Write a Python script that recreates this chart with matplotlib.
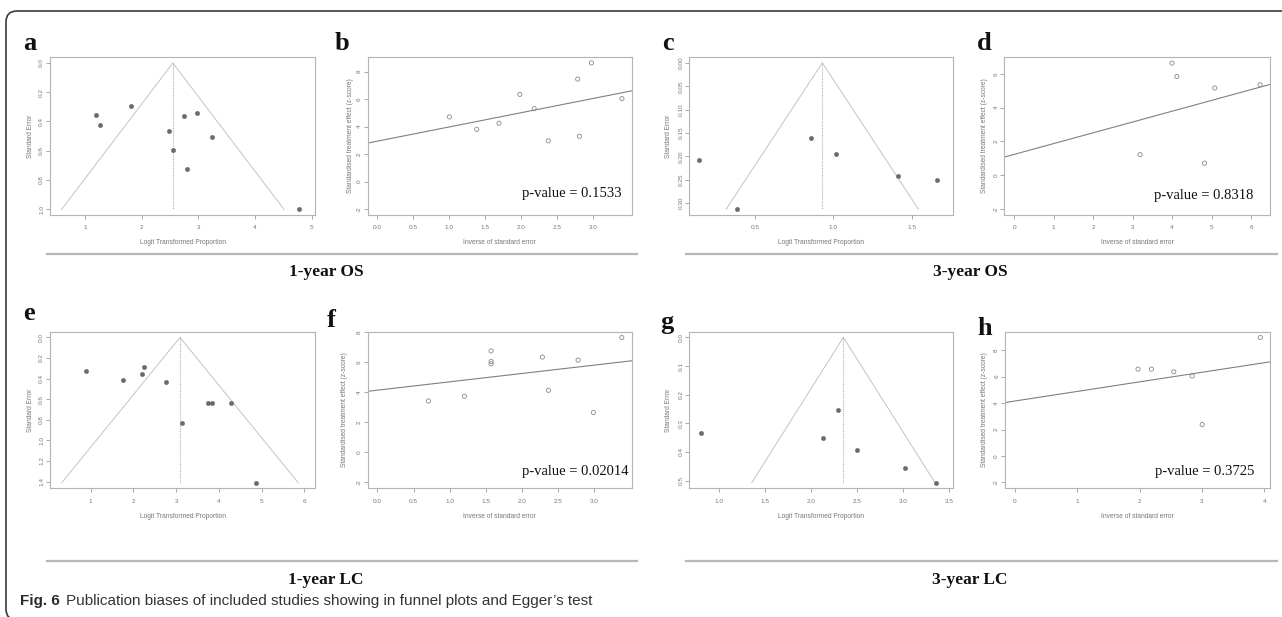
import numpy as np
import matplotlib
matplotlib.use("Agg")
import matplotlib.pyplot as plt
from matplotlib.patches import FancyBboxPatch
from matplotlib.transforms import IdentityTransform
from matplotlib.ticker import FixedLocator, FixedFormatter

W, H = 1282, 617
plt.rcParams['axes.unicode_minus'] = False

# ---------------- data ----------------
# (a) 1-year OS funnel plot: logit transformed proportion vs standard error
a_te = [1.19, 1.27, 1.82, 2.48, 2.56, 2.74, 2.80, 2.98, 3.25, 4.77]
a_se = [0.358, 0.425, 0.297, 0.463, 0.596, 0.363, 0.726, 0.340, 0.505, 1.002]
a_center = 2.55
# (b) 1-year OS Egger: inverse of SE vs z-score
b_prec = [1.00, 1.38, 1.69, 1.98, 2.18, 2.375, 2.785, 2.81, 2.976, 3.40]
b_z = [4.71, 3.81, 4.25, 6.35, 5.31, 2.97, 7.46, 3.30, 8.64, 6.04]
b_pval = "p-value = 0.1533"
# (c) 3-year OS funnel
c_te = [0.145, 0.383, 0.858, 1.017, 1.41, 1.66]
c_se = [0.207, 0.313, 0.160, 0.196, 0.243, 0.250]
c_center = 0.93
# (d) 3-year OS Egger
d_prec = [3.19, 4.00, 4.12, 4.82, 5.08, 6.23]
d_z = [1.22, 6.63, 5.84, 0.71, 5.16, 5.35]
d_pval = "p-value = 0.8318"
# (e) 1-year LC funnel
e_te = [0.89, 1.75, 2.20, 2.256, 2.77, 3.13, 3.75, 3.85, 4.29, 4.87]
e_se = [0.330, 0.417, 0.356, 0.291, 0.434, 0.828, 0.634, 0.634, 0.634, 1.411]
e_center = 3.09
# (f) 1-year LC Egger
f_prec = [0.706, 1.204, 1.574, 1.574, 1.574, 2.284, 2.367, 2.778, 2.99, 3.383]
f_z = [3.42, 3.73, 6.75, 6.05, 5.89, 6.34, 4.13, 6.14, 2.65, 7.64]
f_pval = "p-value = 0.02014"
# (g) 3-year LC funnel
g_te = [0.80, 2.129, 2.288, 2.501, 3.019, 3.352]
g_se = [0.333, 0.351, 0.253, 0.392, 0.457, 0.507]
g_center = 2.35
# (h) 3-year LC Egger
h_prec = [1.975, 2.19, 2.548, 2.843, 3.003, 3.935]
h_z = [6.57, 6.57, 6.37, 6.05, 2.38, 8.96]
h_pval = "p-value = 0.3725"

group_titles = ["1-year OS", "3-year OS", "1-year LC", "3-year LC"]
caption_bold = "Fig. 6"
caption_text = "Publication biases of included studies showing in funnel plots and Egger\u2019s test"

funnel_xlabel = "Logit Transformed Proportion"
funnel_ylabel = "Standard Error"
egger_xlabel = "Inverse of standard error"
egger_ylabel = "Standardised treatment effect (z-score)"

# ---------------- styling ----------------
SPINE = "#b4b4b4"
TICKC = "#9a9a9a"
LABC = "#777777"
DOT = "#6a6a6a"
SANS = ["Liberation Sans Narrow", "Liberation Sans", "DejaVu Sans"]
SERIF = ["Liberation Serif", "DejaVu Serif"]

fig = plt.figure(figsize=(W / 100, H / 100), dpi=100)


def fx(x):
    return x / W


def fy(y):
    return 1 - y / H


def make_ax(L, T, R, B):
    ax = fig.add_axes([fx(L), fy(B), (R - L) / W, (B - T) / H])
    for s in ax.spines.values():
        s.set_color(SPINE)
        s.set_linewidth(0.8)
    ax.tick_params(axis='both', direction='out', length=3, width=0.6,
                   color=TICKC, labelcolor=LABC, labelsize=4.6)
    ax.tick_params(axis='x', pad=4.5)
    ax.tick_params(axis='y', pad=1.2)
    return ax


def set_ticks(ax, xt, xl, yt, yl):
    ax.xaxis.set_major_locator(FixedLocator(xt))
    ax.xaxis.set_major_formatter(FixedFormatter(xl))
    ax.yaxis.set_major_locator(FixedLocator(yt))
    ax.yaxis.set_major_formatter(FixedFormatter(yl))
    for lab in ax.get_xticklabels():
        lab.set_fontfamily(SANS)
    for lab in ax.get_yticklabels():
        lab.set_rotation(90)
        lab.set_va('center')
        lab.set_fontfamily(SANS)


def labels(ax, xlabel, ylabel, ylab_x, L, T, R, B):
    fig.text(fx((L + R) / 2), fy(B + 28), xlabel, ha='center', va='center',
             fontsize=4.8, color=LABC, family=SANS)
    fig.text(fx(ylab_x), fy((T + B) / 2), ylabel, ha='center', va='center',
             rotation=90, fontsize=4.8, color=LABC, family=SANS)


def funnel(box, te, se, center, xlim, ylim, xt, xl, yt, yl, ylab_x):
    L, T, R, B = box
    ax = make_ax(*box)
    semax = max(se)
    ax.plot([center - 1.96 * semax, center, center + 1.96 * semax],
            [semax, 0, semax], color="#c4c4c4", lw=0.7)
    ax.plot([center, center], [0, semax], color="#b0b0b0", lw=0.8,
            linestyle=(0, (1, 1)))
    ax.scatter(te, se, s=10, color=DOT, edgecolors=DOT, linewidths=0.3, zorder=3)
    ax.set_xlim(*xlim)
    ax.set_ylim(*ylim)
    set_ticks(ax, xt, xl, yt, yl)
    labels(ax, funnel_xlabel, funnel_ylabel, ylab_x, L, T, R, B)
    return ax


def egger(box, prec, z, pval, xlim, ylim, xt, xl, yt, yl, ylab_x, ptxt):
    L, T, R, B = box
    ax = make_ax(*box)
    slope, icpt = np.polyfit(prec, z, 1)
    ax.axline((0, icpt), slope=slope, color="#808080", lw=0.8)
    ax.scatter(prec, z, s=9, facecolors='none', edgecolors="#8a8a8a",
               linewidths=0.6, zorder=3)
    ax.set_xlim(*xlim)
    ax.set_ylim(*ylim)
    set_ticks(ax, xt, xl, yt, yl)
    labels(ax, egger_xlabel, egger_ylabel, ylab_x, L, T, R, B)
    fig.text(fx(ptxt[0]), fy(ptxt[1]), pval, ha='right', va='center',
             fontsize=10.5, family=SERIF, color="#111111")
    return ax


# panel a
funnel((50, 57, 315, 215), a_te, a_se, a_center, (0.382, 5.06), (1.04, -0.041),
       [1, 2, 3, 4, 5], ["1", "2", "3", "4", "5"],
       [0, 0.2, 0.4, 0.6, 0.8, 1.0], ["0.0", "0.2", "0.4", "0.6", "0.8", "1.0"], 30)
# panel b
egger((367.7, 57, 631.7, 215), b_prec, b_z, b_pval, (-0.136, 3.536), (-2.43, 9.07),
      [0, 0.5, 1, 1.5, 2, 2.5, 3], ["0.0", "0.5", "1.0", "1.5", "2.0", "2.5", "3.0"],
      [-2, 0, 2, 4, 6, 8], ["-2", "0", "2", "4", "6", "8"], 350, (621.7, 194))
# panel c
funnel((689.3, 57, 953.3, 215), c_te, c_se, c_center, (0.081, 1.766), (0.3255, -0.0125),
       [0.5, 1.0, 1.5], ["0.5", "1.0", "1.5"],
       [0, 0.05, 0.1, 0.15, 0.2, 0.25, 0.3],
       ["0.00", "0.05", "0.10", "0.15", "0.20", "0.25", "0.30"], 668)
# panel d
egger((1004.3, 57, 1270, 215), d_prec, d_z, d_pval, (-0.25, 6.48), (-2.35, 6.99),
      [0, 1, 2, 3, 4, 5, 6], ["0", "1", "2", "3", "4", "5", "6"],
      [-2, 0, 2, 4, 6], ["-2", "0", "2", "4", "6"], 985, (1253, 196))
# panel e
funnel((50, 331.7, 315, 488.3), e_te, e_se, e_center, (0.048, 6.25), (1.466, -0.056),
       [1, 2, 3, 4, 5, 6], ["1", "2", "3", "4", "5", "6"],
       [0, 0.2, 0.4, 0.6, 0.8, 1.0, 1.2, 1.4],
       ["0.0", "0.2", "0.4", "0.6", "0.8", "1.0", "1.2", "1.4"], 30)
# panel f
egger((367.7, 331.7, 631.7, 488.3), f_prec, f_z, f_pval, (-0.134, 3.52), (-2.39, 8.03),
      [0, 0.5, 1, 1.5, 2, 2.5, 3], ["0.0", "0.5", "1.0", "1.5", "2.0", "2.5", "3.0"],
      [-2, 0, 2, 4, 6, 8], ["-2", "0", "2", "4", "6", "8"], 345, (628, 472))
# panel g
funnel((689.3, 331.7, 953.3, 488.3), g_te, g_se, g_center, (0.678, 3.543), (0.527, -0.0198),
       [1.0, 1.5, 2.0, 2.5, 3.0, 3.5], ["1.0", "1.5", "2.0", "2.5", "3.0", "3.5"],
       [0, 0.1, 0.2, 0.3, 0.4, 0.5], ["0.0", "0.1", "0.2", "0.3", "0.4", "0.5"], 668)
# panel h
egger((1005, 331.7, 1270, 488.3), h_prec, h_z, h_pval, (-0.157, 4.09), (-2.44, 9.40),
      [0, 1, 2, 3, 4], ["0", "1", "2", "3", "4"],
      [-2, 0, 2, 4, 6, 8], ["-2", "0", "2", "4", "6", "8"], 984, (1254, 472))

# panel letters (left x, baseline y)
letters = ["a", "b", "c", "d", "e", "f", "g", "h"]
letter_pos = [(23, 50), (335, 50), (662, 50), (977, 50),
              (23, 320), (327, 327), (660, 329), (977, 335)]
for t, (x, y) in zip(letters, letter_pos):
    fig.text(fx(x), fy(y), t, ha='left', va='baseline', fontsize=19,
             fontweight='bold', family=SERIF, color="#111111")

# separators and group titles
for y in (254, 561):
    for x0, x1 in ((47, 637), (686, 1277)):
        fig.add_artist(plt.Line2D([fx(x0), fx(x1)], [fy(y), fy(y)],
                                  color="#b8b8b8", lw=1.6, transform=fig.transFigure))
title_pos = [(326, 272), (970, 272), (326, 580), (970, 580)]
for t, (x, y) in zip(group_titles, title_pos):
    fig.text(fx(x), fy(y), t, ha='center', va='center', fontsize=12.5,
             fontweight='bold', family=SERIF, color="#111111")

# caption
cb = fig.text(fx(20), fy(601), caption_bold, ha='left', va='center', fontsize=11,
              fontweight='bold', family=["Liberation Sans", "DejaVu Sans"], color="#2a2a2a")
r = fig.canvas.get_renderer()
bb = cb.get_window_extent(renderer=r)
fig.text((bb.x1 + 6) / W, fy(601), caption_text, ha='left', va='center', fontsize=11,
         family=["Liberation Sans", "DejaVu Sans"], color="#333333")

# outer frame (rounded box, clipped by figure edges)
frame = FancyBboxPatch((6, -3), 1320, H - 11 + 3,
                       boxstyle="round,pad=0,rounding_size=11",
                       transform=IdentityTransform(), fill=False,
                       edgecolor="#3a3a3a", lw=1.2)
fig.patches.append(frame)

fig.savefig("out.png", dpi=100)
